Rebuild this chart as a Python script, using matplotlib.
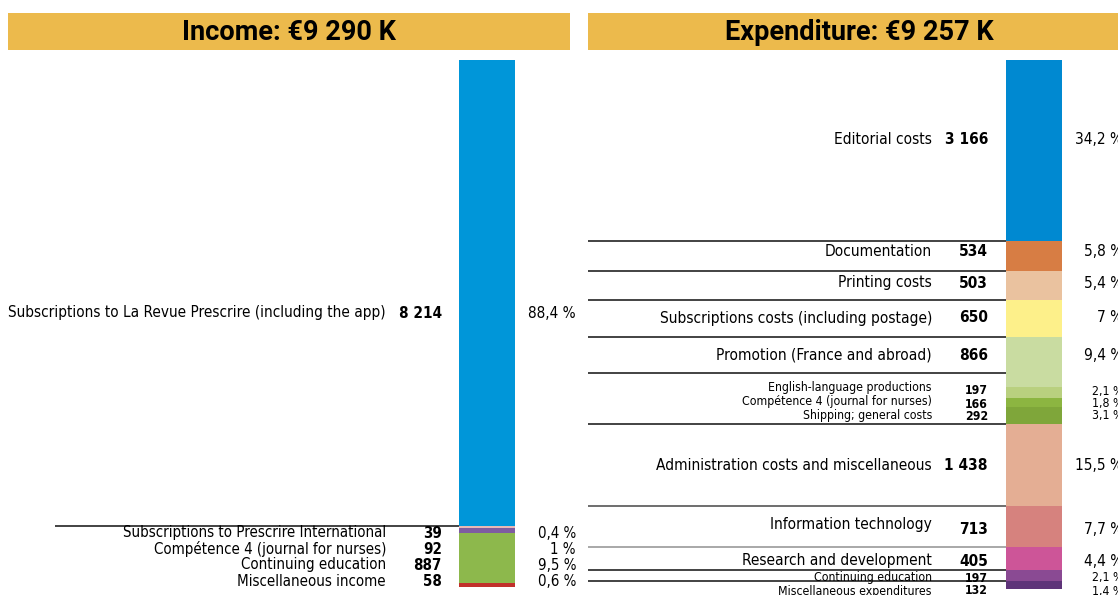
import matplotlib
matplotlib.use('Agg')
import numpy as np
import matplotlib.pyplot as plt
from matplotlib.patches import Rectangle
from matplotlib import font_manager

# Income side
inc_labels = ['Subscriptions to La Revue Prescrire (including the app)',
              'Subscriptions to Prescrire International',
              'Compétence 4 (journal for nurses)',
              'Continuing education',
              'Miscellaneous income']
inc_values = [8214, 39, 92, 887, 58]
inc_pct = ['88,4 %', '0,4 %', '1 %', '9,5 %', '0,6 %']
inc_colors = ['#0096D9', '#E8B9B6', '#7E5CA0', '#8DB84C', '#C1302B']

# Expenditure side
exp_labels = ['Editorial costs', 'Documentation', 'Printing costs',
              'Subscriptions costs (including postage)',
              'Promotion (France and abroad)',
              'English-language productions',
              'Compétence 4 (journal for nurses)',
              'Shipping; general costs',
              'Administration costs and miscellaneous',
              'Information technology',
              'Research and development',
              'Continuing education',
              'Miscellaneous expenditures']
exp_values = [3166, 534, 503, 650, 866, 197, 166, 292, 1438, 713, 405, 197, 132]
exp_pct = ['34,2 %', '5,8 %', '5,4 %', '7 %', '9,4 %', '2,1 %', '1,8 %', '3,1 %',
           '15,5 %', '7,7 %', '4,4 %', '2,1 %', '1,4 %']
exp_colors = ['#0089D1', '#D77D44', '#EAC29F', '#FDF08A', '#C9DCA1', '#B9D07F',
              '#8CB541', '#7FA63A', '#E4AE94', '#D6827E', '#CD5598', '#8A4A93',
              '#5E3479']

inc_title = 'Income: €9 290 K'
exp_title = 'Expenditure: €9 257 K'

W, H = 1118, 595
TOP = 60  # pixel row where both bars start
s_inc = 0.0567  # pixels per K
s_exp = 0.0571

# pick a condensed face if one is installed
fl = font_manager.fontManager.ttflist
names = {f.name for f in fl}
stretch = 'normal'
scale = 1.0
if 'Liberation Sans Narrow' in names:
    narrow = ['Liberation Sans Narrow', 'DejaVu Sans']
elif any(f.name == 'DejaVu Sans' and str(f.stretch) in ('condensed', '400') for f in fl
         if 'Condensed' in f.fname):
    narrow = ['DejaVu Sans']
    stretch = 'condensed'
    scale = 0.92
else:
    narrow = ['Roboto', 'DejaVu Sans']
    scale = 0.88

head_font = ['Roboto', 'DejaVu Sans']
header_col = '#ECBA4C'

fig = plt.figure(figsize=(W / 100, H / 100), dpi=100)


def make_axes(x0, x1, s):
    ax = fig.add_axes([x0 / W, 0, (x1 - x0) / W, 1])
    ax.set_xlim(x0, x1)
    ax.set_ylim((H - TOP) / s, -TOP / s)
    ax.axis('off')
    return ax


def fmt(v):
    return f'{v:,}'.replace(',', ' ')


def txt(ax, x, y, s, fs, bold=False):
    ax.text(x, y, s, ha='right', va='center', fontsize=fs * scale,
            fontweight='bold' if bold else 'normal', family=narrow,
            fontstretch=stretch, clip_on=False)


ax_i = make_axes(0, 580, s_inc)
ax_e = make_axes(580, W, s_exp)

# headers
for (x0, x1, xt, title) in [(8, 570, 289, inc_title), (588, 1135, 859, exp_title)]:
    fig.add_artist(Rectangle((x0 / W, 1 - 50 / H), (x1 - x0) / W, 37 / H,
                             transform=fig.transFigure, color=header_col, lw=0))
    fig.text(xt / W, 1 - 32 / H, title, ha='center', va='center',
             fontsize=19.5, fontweight='bold', family=head_font)

# ---- income bar
inc_cum = np.cumsum(inc_values)
inc_start = inc_cum - np.array(inc_values)
ax_i.bar(487, inc_values, bottom=inc_start, width=56, color=inc_colors, linewidth=0)
ax_i.hlines(inc_cum[0], 55, 459, color='#222222', lw=1.2)

inc_y = [313, 533, 549, 565, 582]
inc_fs = [11.9, 11.8, 11.8, 11.8, 11.8]
for lab, v, p, py, fs in zip(inc_labels, inc_values, inc_pct, inc_y, inc_fs):
    yy = (py - TOP) / s_inc
    txt(ax_i, 386, yy, lab, fs)
    txt(ax_i, 442, yy, fmt(v), fs, bold=True)
    txt(ax_i, 576, yy, p, fs)

# ---- expenditure bar
exp_cum = np.cumsum(exp_values)
exp_start = exp_cum - np.array(exp_values)
ax_e.bar(1034, exp_values, bottom=exp_start, width=56, color=exp_colors, linewidth=0)

# separator rules: after these rows (promotion rule sits a bit higher)
sep_after = [0, 1, 2, 3, 4, 7, 8, 9, 10, 11]
sep_shift = {4: -14}
sep_col = {9: '#999999', 8: '#555555'}
for i in sep_after:
    yy = exp_cum[i] + sep_shift.get(i, 0) / s_exp
    ax_e.hlines(yy, 588, 1006, color=sep_col.get(i, '#222222'), lw=1.2)

lab_y = [139, 252, 283, 318, 355, 388, 402, 415, 466, 525, 561, 578, 591]
val_y = [139, 252, 283, 318, 355, 391, 404, 416, 466, 529, 561, 578, 591]
small = {5, 6, 7}
for i, (lab, v, p) in enumerate(zip(exp_labels, exp_values, exp_pct)):
    fs = 12
    if i in small:
        fs = 9.6
    if i in (11, 12):
        fs = 9.6
    ly = (lab_y[i] - TOP) / s_exp
    vy = (val_y[i] - TOP) / s_exp
    txt(ax_e, 932, ly, lab, fs)
    txt(ax_e, 988, vy, fmt(v), fs, bold=True)
    txt(ax_e, 1123, vy, p, fs)

fig.savefig('out.png', dpi=100)
